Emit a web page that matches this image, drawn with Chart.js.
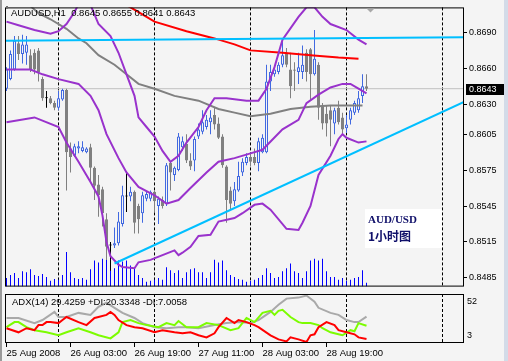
<!DOCTYPE html>
<html>
<head>
<meta charset="utf-8">
<script src="https://cdn.jsdelivr.net/npm/chart.js@4.4.1/dist/chart.umd.min.js"></script>
<style>
  html, body { margin: 0; padding: 0; background: #f4f4f4; }
  #wrap { position: relative; width: 508px; height: 361px; overflow: hidden; background: #f4f4f4; }
  #main { position: absolute; left: 0; top: 0; }
  #adx { position: absolute; left: 0; top: 292px; }
  #edgeL { position: absolute; left: 0; top: 0; width: 2px; height: 361px; background: #9a9a9a; }
  #edgeR { position: absolute; left: 504px; top: 0; width: 4px; height: 361px; background: #d3dbe8; }
</style>
</head>
<body>
<div id="wrap">
  <canvas id="main" width="508" height="294"></canvas>
  <canvas id="adx" width="508" height="69"></canvas>
  <div id="edgeL"></div>
  <div id="edgeR"></div>
</div>
<script>
// AUDUSD H1, bars from 25 Aug 11:00 (hour -13) to 29 Aug 05:00 (hour 77), hour 0 = 26 Aug 00:00
const symbol = "AUDUSD";
const firstHour = -13;

const opens = [
  0.8643, 0.8651, 0.8659, 0.8681, 0.8672, 0.8673, 0.8671, 0.8673, 0.8675, 0.8651,
  0.8635, 0.8635, 0.8631, 0.8627, 0.8634, 0.8642, 0.8593, 0.8587, 0.8593, 0.8591,
  0.8590, 0.8594, 0.8577, 0.8563, 0.8559, 0.8534, 0.8512, 0.8512, 0.8514, 0.8530,
  0.8553, 0.8553, 0.8557, 0.8545, 0.8539, 0.8551, 0.8551, 0.8557, 0.8545, 0.8550,
  0.8547, 0.8581, 0.8571, 0.8575, 0.8594, 0.8597, 0.8583, 0.8583, 0.8603, 0.8607,
  0.8611, 0.8615, 0.8621, 0.8614, 0.8603, 0.8578, 0.8558, 0.8549, 0.8558, 0.8573,
  0.8581, 0.8586, 0.8586, 0.8581, 0.8590, 0.8590, 0.8649, 0.8655, 0.8657, 0.8663,
  0.8673, 0.8659, 0.8659, 0.8657, 0.8657, 0.8673, 0.8676, 0.8655, 0.8663, 0.8629,
  0.8622, 0.8625, 0.8614, 0.8627, 0.8619, 0.8610, 0.8617, 0.8623, 0.8625, 0.8637,
  0.8645
];
const highs = [
  0.8661, 0.8675, 0.8687, 0.8687, 0.8688, 0.8687, 0.8676, 0.8676, 0.8677, 0.8653,
  0.8641, 0.8637, 0.8633, 0.8641, 0.8643, 0.8643, 0.8598, 0.8597, 0.8599, 0.8599,
  0.8594, 0.8597, 0.8578, 0.8571, 0.8561, 0.8539, 0.8515, 0.8527, 0.8540, 0.8562,
  0.8573, 0.8561, 0.8558, 0.8547, 0.8557, 0.8557, 0.8558, 0.8558, 0.8553, 0.8553,
  0.8581, 0.8582, 0.8578, 0.8606, 0.8603, 0.8605, 0.8589, 0.8603, 0.8614, 0.8625,
  0.8621, 0.8625, 0.8627, 0.8619, 0.8605, 0.8579, 0.8561, 0.8565, 0.8582, 0.8585,
  0.8589, 0.8589, 0.8593, 0.8602, 0.8605, 0.8663, 0.8663, 0.8659, 0.8665, 0.8684,
  0.8677, 0.8673, 0.8665, 0.8673, 0.8679, 0.8676, 0.8677, 0.8692, 0.8665, 0.8631,
  0.8629, 0.8629, 0.8627, 0.8633, 0.8623, 0.8621, 0.8627, 0.8633, 0.8641, 0.8655,
  0.8655
];
const lows = [
  0.8641, 0.8650, 0.8658, 0.8667, 0.8664, 0.8663, 0.8657, 0.8655, 0.8649, 0.8633,
  0.8627, 0.8630, 0.8625, 0.8625, 0.8633, 0.8558, 0.8573, 0.8586, 0.8589, 0.8590,
  0.8589, 0.8566, 0.8550, 0.8536, 0.8528, 0.8500, 0.8491, 0.8510, 0.8512, 0.8528,
  0.8540, 0.8549, 0.8522, 0.8522, 0.8531, 0.8549, 0.8549, 0.8540, 0.8530, 0.8543,
  0.8545, 0.8558, 0.8566, 0.8574, 0.8591, 0.8581, 0.8575, 0.8574, 0.8601, 0.8605,
  0.8609, 0.8605, 0.8609, 0.8601, 0.8577, 0.8531, 0.8542, 0.8545, 0.8557, 0.8570,
  0.8579, 0.8578, 0.8579, 0.8574, 0.8589, 0.8589, 0.8641, 0.8653, 0.8655, 0.8661,
  0.8661, 0.8635, 0.8641, 0.8647, 0.8651, 0.8649, 0.8633, 0.8654, 0.8617, 0.8609,
  0.8603, 0.8595, 0.8605, 0.8613, 0.8605, 0.8606, 0.8613, 0.8621, 0.8623, 0.8631,
  0.8641
];
const closes = [
  0.8659, 0.8672, 0.8683, 0.8672, 0.8680, 0.8680, 0.8659, 0.8659, 0.8657, 0.8635,
  0.8635, 0.8631, 0.8627, 0.8635, 0.8642, 0.8590, 0.8586, 0.8595, 0.8595, 0.8594,
  0.8593, 0.8577, 0.8562, 0.8554, 0.8539, 0.8511, 0.8512, 0.8514, 0.8532, 0.8554,
  0.8553, 0.8557, 0.8531, 0.8534, 0.8554, 0.8555, 0.8557, 0.8549, 0.8551, 0.8545,
  0.8579, 0.8573, 0.8577, 0.8603, 0.8599, 0.8583, 0.8578, 0.8601, 0.8609, 0.8615,
  0.8617, 0.8619, 0.8613, 0.8602, 0.8579, 0.8550, 0.8547, 0.8559, 0.8570, 0.8582,
  0.8586, 0.8582, 0.8581, 0.8599, 0.8602, 0.8649, 0.8657, 0.8659, 0.8663, 0.8671,
  0.8663, 0.8645, 0.8658, 0.8661, 0.8663, 0.8657, 0.8655, 0.8668, 0.8627, 0.8614,
  0.8614, 0.8617, 0.8625, 0.8615, 0.8609, 0.8613, 0.8625, 0.8631, 0.8635, 0.8645,
  0.8643
];
const volumes = [
  90, 120, 140, 90, 160, 150, 180, 120, 110, 130,
  100, 60, 80, 70, 120, 360, 150, 90, 80, 90,
  70, 180, 270, 250, 290, 350, 250, 190, 270, 260,
  270, 220, 190, 120, 90, 50, 60, 70, 90, 70,
  200, 170, 140, 170, 90, 150, 180, 190, 150, 150,
  90, 150, 280, 250, 270, 170, 120, 100, 80, 70,
  50, 60, 70, 90, 120, 190, 140, 90, 100, 160,
  190, 240, 160, 140, 90, 160, 270, 290, 270, 290,
  160, 100, 100, 70, 90, 60, 70, 90, 100, 170,
  40
];

// indicator lines, [hour, price]
const bbUpper = [[-13, 0.8699], [-10, 0.8696], [-6, 0.8692], [-2, 0.8689], [0, 0.8691], [2, 0.8697], [4, 0.8707], [6, 0.8720], [8, 0.8713], [10, 0.8697], [13, 0.8687], [15, 0.8673], [17, 0.8655], [19, 0.8637], [20, 0.8619], [22, 0.8611], [24, 0.8603], [26, 0.8591], [28, 0.8582], [30, 0.8587], [32, 0.8598], [35, 0.8611], [37, 0.8625], [39, 0.8635], [42, 0.8635], [47, 0.8633], [50, 0.8633], [52, 0.8643], [54, 0.8661], [56, 0.8684], [60, 0.8703], [62, 0.8711], [64, 0.8711], [66, 0.8703], [68, 0.8697], [72, 0.8692], [75, 0.8684], [77, 0.8680]];
const bbMiddle = [[-13, 0.8659], [-7, 0.8659], [-4, 0.8655], [0, 0.8651], [5, 0.8647], [8, 0.8637], [10, 0.8625], [12, 0.8605], [15, 0.8585], [17, 0.8573], [20, 0.8561], [24, 0.8554], [27, 0.8547], [30, 0.8550], [33, 0.8560], [37, 0.8573], [40, 0.8582], [44, 0.8585], [48, 0.8589], [51, 0.8592], [56, 0.8609], [60, 0.8617], [62, 0.8631], [65, 0.8638], [68, 0.8644], [71, 0.8647], [73, 0.8647], [75, 0.8643], [77, 0.8639]];
const bbLower = [[-13, 0.8615], [-6, 0.8619], [0, 0.8611], [2, 0.8598], [5, 0.8582], [8, 0.8565], [10, 0.8553], [11, 0.8537], [12, 0.8515], [13, 0.8503], [15, 0.8496], [16, 0.8494], [19, 0.8493], [20, 0.8498], [23, 0.8500], [26, 0.8504], [29, 0.8508], [30, 0.8504], [31, 0.8506], [33, 0.8511], [35, 0.8520], [38, 0.8521], [40, 0.8532], [44, 0.8535], [46, 0.8539], [49, 0.8546], [51, 0.8547], [53, 0.8542], [57, 0.8526], [60, 0.8525], [61, 0.8531], [63, 0.8545], [65, 0.8571], [68, 0.8587], [70, 0.8601], [71, 0.8605], [72, 0.8602], [75, 0.8598], [77, 0.8599]];
const maGray = [[-8, 0.8715], [-5, 0.8706], [-2, 0.8701], [2, 0.8693], [5, 0.8685], [7, 0.8681], [10, 0.8671], [14, 0.8663], [17, 0.8655], [20, 0.8647], [24, 0.8643], [29, 0.8637], [35, 0.8633], [40, 0.8626], [44, 0.8623], [48, 0.8620], [53, 0.8622], [58, 0.8626], [63, 0.8628], [68, 0.8629], [73, 0.8629], [76, 0.8629]];
const maRed = [[15, 0.8716], [18, 0.8711], [24, 0.8699], [32, 0.8691], [39, 0.8685], [44, 0.8680], [48, 0.8675], [56, 0.8673], [63, 0.8671], [70, 0.8669], [75, 0.8668]];
const levelLine = [[-14, 0.8683], [102, 0.8686]];
const trendLine = [[14, 0.8497], [102, 0.8633]];

// ADX(14) sub window, [hour, value]
const adxMain = [[-13, 28.0], [-10, 28.0], [-6, 22.9], [-4, 26.0], [-1, 34.1], [0, 29.0], [2, 29.0], [5, 33.1], [8, 31.1], [10, 39.2], [12, 43.3], [14, 38.2], [16, 33.1], [19, 28.0], [21, 22.9], [24, 18.8], [27, 17.8], [30, 18.8], [32, 18.8], [35, 17.8], [39, 20.9], [42, 22.9], [45, 23.9], [48, 22.9], [50, 26.0], [53, 34.1], [55, 41.3], [57, 47.4], [60, 48.4], [62, 50.5], [64, 44.3], [65, 38.2], [68, 33.1], [70, 31.1], [72, 26.0], [74, 23.9], [75, 23.9], [77, 29.4]];
const plusDI = [[-13, 18.8], [-11, 23.9], [-10, 23.9], [-8, 18.8], [-6, 15.8], [-3, 13.7], [0, 10.7], [2, 13.7], [5, 17.8], [8, 13.7], [10, 10.7], [13, 7.6], [15, 13.7], [16, 23.9], [18, 26.0], [20, 22.9], [22, 20.9], [25, 18.8], [27, 22.9], [29, 20.9], [30, 25.0], [32, 18.8], [35, 18.8], [37, 22.9], [40, 20.9], [43, 15.8], [45, 17.8], [47, 28.0], [49, 23.9], [51, 33.1], [53, 35.2], [54, 31.1], [55, 35.2], [56, 36.2], [58, 29.0], [60, 23.9], [61, 22.9], [63, 22.9], [65, 20.9], [66, 17.8], [68, 13.7], [70, 11.7], [71, 10.7], [73, 15.8], [74, 14.7], [75, 22.9], [77, 20.3]];
const minusDI = [[-13, 17.8], [-10, 13.7], [-8, 17.8], [-6, 15.8], [-5, 20.9], [-4, 20.9], [-3, 23.9], [-2, 23.9], [0, 22.9], [1, 26.0], [2, 29.0], [5, 23.9], [7, 20.9], [9, 28.0], [10, 29.0], [12, 31.1], [13, 34.1], [14, 31.1], [15, 26.0], [17, 20.9], [19, 18.8], [21, 17.8], [24, 13.7], [26, 15.8], [29, 13.7], [31, 12.7], [33, 13.7], [35, 10.7], [37, 8.6], [39, 12.7], [40, 18.8], [42, 28.0], [44, 22.9], [45, 26.0], [47, 23.9], [49, 20.9], [50, 18.8], [53, 10.7], [55, 6.6], [57, 4.5], [58, 8.6], [60, 6.6], [62, 4.0], [63, 10.7], [64, 11.7], [65, 18.8], [67, 23.9], [69, 20.9], [70, 15.8], [72, 13.7], [74, 11.7], [75, 8.6], [77, 7.0]];
const adxReadout = [29.4259, 20.3348, 7.0058];
const adxRange = [3, 52];

const priceTicks = [0.8690, 0.8660, 0.8630, 0.8605, 0.8575, 0.8545, 0.8515, 0.8485];
const daySeparators = [0, 24, 48, 72, 96];
const timeTickHours = [-13, 3, 19, 35, 51, 67];
const timeTickLabels = ["25 Aug 2008", "26 Aug 03:00", "26 Aug 19:00", "27 Aug 11:00", "28 Aug 03:00", "28 Aug 19:00"];

const X_MIN = -13.375, X_MAX = 101.125;
const FONT = '"Liberation Sans", Arial, sans-serif';
const BULL = "#4169e1", BEAR = "#808080", BG = "#f4f4f4";

const hours = opens.map((_, i) => firstHour + i);
const last = closes.length - 1;
const dir = i => (closes[i] > opens[i] ? 1 : closes[i] < opens[i] ? -1 : 0);
const edgeColors = hours.map((_, i) => (dir(i) > 0 ? BULL : dir(i) < 0 ? BEAR : "#000"));
const fillColors = hours.map((_, i) => (dir(i) > 0 ? BG : dir(i) < 0 ? BEAR : "#000"));
const toPts = arr => arr.map(([x, y]) => ({ x, y }));

const lineSet = (data, color, order, width = 2) => ({
  type: "line", data: toPts(data), borderColor: color, borderWidth: width,
  pointRadius: 0, tension: 0, fill: false, order
});

// frame, title, bid label and text box
const mainDecor = {
  id: "mainDecor",
  afterDraw(chart) {
    const ctx = chart.ctx;
    const a = chart.chartArea;
    const y = chart.scales.y;
    ctx.save();
    ctx.strokeStyle = "#000";
    ctx.lineWidth = 1;
    ctx.strokeRect(a.left + 0.5, a.top + 0.5, a.right - a.left, a.bottom - a.top - 1);

    ctx.fillStyle = "#707070";
    ctx.fillRect(6, 6, 2, 3);
    ctx.fillStyle = "#000";
    ctx.font = "9.5px " + FONT;
    ctx.textBaseline = "middle";
    const f = v => v.toFixed(4);
    ctx.fillText(symbol + ",H1  " + f(opens[last]) + " " + f(highs[last]) + " " + f(lows[last]) + " " + f(closes[last]), 11, 13);

    // chart shift marker
    const sx = chart.scales.x.getPixelForValue(78);
    ctx.fillStyle = "#a8a8a8";
    ctx.beginPath();
    ctx.moveTo(sx - 4, a.top + 1);
    ctx.lineTo(sx + 4, a.top + 1);
    ctx.lineTo(sx, a.top + 5);
    ctx.closePath();
    ctx.fill();

    // bid price label
    const by = Math.round(y.getPixelForValue(closes[last]));
    ctx.fillStyle = "#000";
    ctx.fillRect(a.right + 3, by - 5, 39, 11);
    ctx.fillStyle = "#fff";
    ctx.font = "9px " + FONT;
    ctx.fillText(f(closes[last]), a.right + 6, by + 0.5);

    // caption box
    ctx.fillStyle = "#fff";
    ctx.fillRect(365, 209, 77, 39);
    ctx.fillStyle = "#10106a";
    ctx.font = 'bold 11px "Liberation Serif", "DejaVu Serif", serif';
    ctx.fillText("AUD/USD", 368, 220);
    ctx.font = 'bold 12px "Noto Sans CJK SC", sans-serif';
    ctx.fillText("1小时图", 368, 236);
    ctx.restore();
  }
};

new Chart(document.getElementById("main"), {
  type: "bar",
  data: {
    datasets: [
      lineSet(levelLine, "#00bfff", 0),
      lineSet(trendLine, "#00bfff", 0),
      lineSet(bbUpper, "#9932cc", 1),
      lineSet(bbMiddle, "#9932cc", 1),
      lineSet(bbLower, "#9932cc", 1),
      lineSet(maRed, "#ff0000", 2),
      lineSet(maGray, "#808080", 2),
      {
        type: "bar", order: 4,
        data: hours.map((h, i) => ({ x: h, y: [opens[i], closes[i]] })),
        backgroundColor: fillColors, borderColor: edgeColors, borderWidth: 1,
        borderSkipped: false, barThickness: 3, maxBarThickness: 3, barPercentage: 1,
        minBarLength: 1, inflateAmount: 0, grouped: false
      },
      {
        type: "bar", order: 5,
        data: hours.map((h, i) => ({ x: h, y: [lows[i], highs[i]] })),
        backgroundColor: edgeColors, barThickness: 1, maxBarThickness: 1, barPercentage: 1,
        inflateAmount: 0, grouped: false
      },
      lineSet([[X_MIN, closes[last]], [X_MAX, closes[last]]], "#c0c0c0", 6, 1),
      {
        type: "bar", order: 7, yAxisID: "vol",
        data: hours.map((h, i) => ({ x: h, y: volumes[i] })),
        backgroundColor: "#0000ff", barThickness: 1, maxBarThickness: 1, barPercentage: 1,
        inflateAmount: 0, grouped: false
      }
    ]
  },
  options: {
    responsive: false,
    animation: false,
    layout: { padding: { left: 5, top: 3, right: 0, bottom: 1 } },
    plugins: { legend: { display: false }, tooltip: { enabled: false } },
    scales: {
      x: {
        type: "linear", min: X_MIN, max: X_MAX, offset: false,
        afterBuildTicks: s => { s.ticks = daySeparators.map(v => ({ value: v })); },
        afterFit: s => { s.height = 0; },
        ticks: { display: false },
        grid: { color: "#000", lineWidth: 1, drawTicks: false, offset: false },
        border: { display: false, dash: [3, 2] }
      },
      y: {
        position: "right", min: 0.84777, max: 0.87109,
        afterBuildTicks: s => { s.ticks = priceTicks.map(v => ({ value: v })); },
        afterFit: s => { s.width = 45; },
        ticks: { callback: v => v.toFixed(4), color: "#000", padding: 2, font: { family: FONT, size: 9 } },
        grid: { drawOnChartArea: false, drawTicks: true, tickLength: 4, color: "#000" },
        border: { display: false }
      },
      vol: { display: false, min: 0, max: 2900 }
    }
  },
  plugins: [mainDecor]
});

const adxDecor = {
  id: "adxDecor",
  afterDraw(chart) {
    const ctx = chart.ctx;
    const a = chart.chartArea;
    const y = chart.scales.y;
    ctx.save();
    ctx.strokeStyle = "#000";
    ctx.lineWidth = 1;
    ctx.strokeRect(a.left + 0.5, a.top + 0.5, a.right - a.left, a.bottom - a.top - 1);
    ctx.fillStyle = "#000";
    ctx.font = "9.5px " + FONT;
    ctx.textBaseline = "middle";
    ctx.fillText("ADX(14) " + adxReadout[0].toFixed(4) + " +DI:" + adxReadout[1].toFixed(4) + " -DI:" + adxReadout[2].toFixed(4), 12, a.top + 8);
    ctx.font = "9px " + FONT;
    ctx.fillText(String(adxRange[1]), a.right + 4, y.getPixelForValue(adxRange[1]) + 8);
    ctx.fillText(String(adxRange[0]), a.right + 4, y.getPixelForValue(adxRange[0]) - 7);
    ctx.restore();
  }
};

new Chart(document.getElementById("adx"), {
  type: "line",
  data: {
    datasets: [
      lineSet(minusDI, "#ff0000", 0),
      lineSet(plusDI, "#7cfc00", 1),
      lineSet(adxMain, "#a9a9a9", 2)
    ]
  },
  options: {
    responsive: false,
    animation: false,
    layout: { padding: { left: 5, top: 2, right: 0, bottom: 0 } },
    plugins: { legend: { display: false }, tooltip: { enabled: false } },
    scales: {
      x: {
        type: "linear", position: "bottom", min: X_MIN, max: X_MAX, offset: false,
        afterBuildTicks: s => { s.ticks = timeTickHours.map(v => ({ value: v })); },
        afterFit: s => { s.height = 18; },
        ticks: {
          autoSkip: false, maxRotation: 0, align: "start", padding: 1, color: "#000",
          font: { family: FONT, size: 9.5 },
          callback: (v, i) => timeTickLabels[i]
        },
        grid: { drawOnChartArea: false, drawTicks: true, tickLength: 4, color: "#000", offset: false },
        border: { display: false }
      },
      sep: {
        type: "linear", axis: "x", position: "bottom", min: X_MIN, max: X_MAX, offset: false,
        afterBuildTicks: s => { s.ticks = daySeparators.map(v => ({ value: v })); },
        afterFit: s => { s.height = 0; },
        ticks: { display: false },
        grid: { color: "#000", drawTicks: false, offset: false },
        border: { display: false, dash: [3, 2] }
      },
      y: {
        position: "right", min: adxRange[0], max: adxRange[1],
        afterFit: s => { s.width = 45; },
        ticks: { display: false },
        grid: { display: false },
        border: { display: false }
      }
    }
  },
  plugins: [adxDecor]
});
</script>
</body>
</html>
